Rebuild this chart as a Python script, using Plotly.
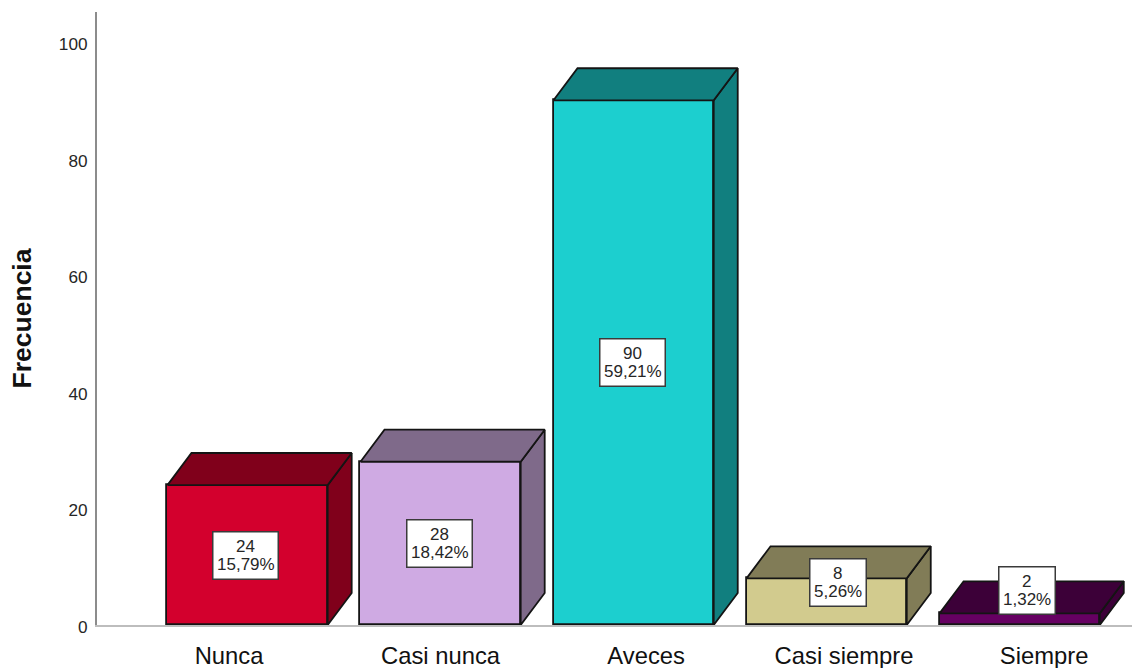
import plotly.graph_objects as go

# Frequency table
categories = ["Nunca", "Casi nunca", "Aveces", "Casi siempre", "Siempre"]
frequencies = [24, 28, 90, 8, 2]
percent_labels = ["15,79%", "18,42%", "59,21%", "5,26%", "1,32%"]
y_ticks = [0, 20, 40, 60, 80, 100]

# Face colours of each box
front_colors = ["#D3002D", "#CFAAE3", "#1CCFCF", "#D2CB8E", "#660062"]
shade_colors = ["#80001B", "#7F6A8A", "#117F7F", "#817C57", "#3C0038"]

# Pixel offsets of the value labels that would not fit on the short boxes
label_lift = [0, 0, 0, 19, 29]
label_slide = [-2, -1, -1, 11, 7]

# Category captions sit slightly off their box centres, in axis units
caption_slide = [-0.096, 0.0, 0.065, 0.09, 0.127]

# Box geometry in axis units
BAR_WIDTH = 0.83
DEPTH_X = 0.1244
DEPTH_Y = 5.5
EDGE = dict(color="#141414", width=1.8)
FONT = "Liberation Sans, Arial, sans-serif"

fig = go.Figure()
positions = list(range(len(categories)))

# Side and top faces sit behind the front faces
for pos, value, shade in zip(positions, frequencies, shade_colors):
    left = pos - BAR_WIDTH / 2
    right = pos + BAR_WIDTH / 2
    fig.add_trace(go.Scatter(
        x=[right, right + DEPTH_X, right + DEPTH_X, right, right],
        y=[0, DEPTH_Y, value + DEPTH_Y, value, 0],
        mode="lines", fill="toself", fillcolor=shade, line=EDGE,
        cliponaxis=False, hoverinfo="skip", showlegend=False,
    ))
    fig.add_trace(go.Scatter(
        x=[left, left + DEPTH_X, right + DEPTH_X, right, left],
        y=[value, value + DEPTH_Y, value + DEPTH_Y, value, value],
        mode="lines", fill="toself", fillcolor=shade, line=EDGE,
        cliponaxis=False, hoverinfo="skip", showlegend=False,
    ))

fig.add_trace(go.Bar(
    x=positions, y=frequencies, width=BAR_WIDTH,
    marker=dict(color=front_colors, line=EDGE),
    cliponaxis=False, showlegend=False,
))

# Two-line value labels on white boxes
for pos, value, pct, lift, slide in zip(positions, frequencies, percent_labels, label_lift, label_slide):
    fig.add_annotation(
        x=pos, y=value / 2, xshift=slide, yshift=lift, text=" ", showarrow=False,
        width=9 * len(pct) + 10, height=46, bgcolor="white",
        bordercolor="#3A3A3A", borderwidth=1.5, borderpad=0,
    )
    for line, offset in ((str(value), 9), (pct, -9)):
        fig.add_annotation(
            x=pos, y=value / 2, xshift=slide, yshift=lift + offset, text=line, showarrow=False,
            font=dict(family=FONT, size=17, color="#262626"),
        )

fig.update_layout(
    width=1132, height=668,
    autosize=False,
    margin=dict(l=97, r=0, t=12, b=43, pad=0),
    paper_bgcolor="white", plot_bgcolor="white",
    bargap=0,
    font=dict(family=FONT, color="#1A1A1A"),
    xaxis=dict(
        range=[-0.78, 4.582],
        tickmode="array",
        tickvals=[p + s for p, s in zip(positions, caption_slide)],
        ticktext=categories,
        tickfont=dict(size=23.8, color="#111111"),
        ticks="", ticklen=0, ticklabelstandoff=8,
        showgrid=False, zeroline=False,
        showline=True, linecolor="#BDBDBD", linewidth=2,
    ),
    yaxis=dict(
        range=[0, 105.15],
        tickmode="array", tickvals=y_ticks,
        tickfont=dict(size=17.2, color="#262626"),
        ticks="outside", ticklen=4, tickcolor="white", tickwidth=1,
        ticklabelshift=2,
        showgrid=False, zeroline=False,
        showline=True, linecolor="#8C8C8C", linewidth=2,
        title=dict(text="<b>Frecuencia</b>", font=dict(size=26.5, color="#111111"), standoff=20),
    ),
)

fig.write_html("out.html")
